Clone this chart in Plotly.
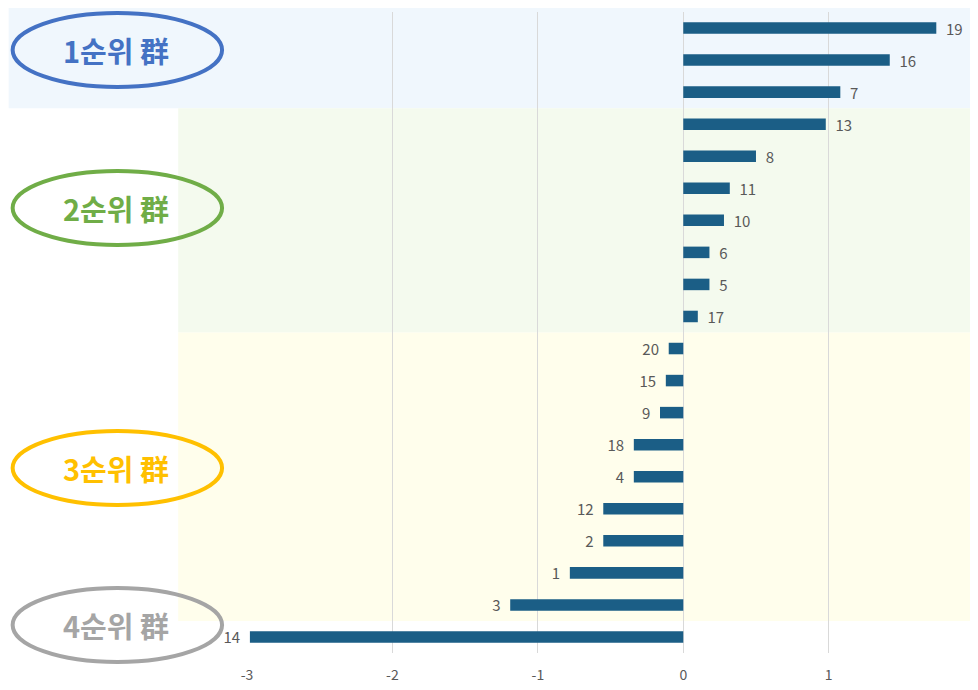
import plotly.graph_objects as go

# Item numbers (top to bottom) and their values
items = ["19", "16", "7", "13", "8", "11", "10", "6", "5", "17",
         "20", "15", "9", "18", "4", "12", "2", "1", "3", "14"]
values = [1.74, 1.42, 1.08, 0.98, 0.50, 0.32, 0.28, 0.18, 0.18, 0.10,
          -0.10, -0.12, -0.16, -0.34, -0.34, -0.55, -0.55, -0.78, -1.19, -2.98]

group_labels = ["1순위 群", "2순위 群", "3순위 群", "4순위 群"]
group_sizes = [3, 7, 9, 1]
group_colors = ["#4472C4", "#70AD47", "#FFC000", "#A5A5A5"]
band_fills = ["#F0F7FD", "#F4FAEE", "#FFFEEC", None]

x_ticks = [-3, -2, -1, 0, 1, 2]

OFF = 8  # page body offset
W, H = 970, 682
ML, MR, MT, MB = 239, 0, 4, 37
PW = W - ML - MR
PH = H - MT - MB

def px_x(p):
    return (p - OFF - ML) / PW

def px_y(p):
    return (H - MB - (p - OFF)) / PH

nbsp = "\u00a0\u00a0"
texts = [(nbsp + it) if v >= 0 else (it + nbsp) for it, v in zip(items, values)]

fig = go.Figure()
fig.add_trace(go.Bar(
    x=values, y=items, orientation="h",
    marker=dict(color="#1B5E86", line=dict(width=0)),
    width=0.36,
    text=texts, textposition="outside", cliponaxis=False, constraintext="none",
    textfont=dict(size=15, color="#595959", family="Noto Sans CJK KR"),
    hoverinfo="skip",
))

shapes = []
annotations = []
n = len(items)
start = 0
ell_centers_y = [50, 208, 468, 625]
for gi, (lab, size, col, fill) in enumerate(zip(group_labels, group_sizes, group_colors, band_fills)):
    top = 1 - start / n
    bot = 1 - (start + size) / n
    if fill:
        x0 = px_x(OFF) if gi == 0 else px_x(178)
        y1 = px_y(OFF) if gi == 0 else top
        shapes.append(dict(type="rect", xref="paper", yref="paper",
                           x0=x0, x1=1, y0=bot, y1=y1,
                           fillcolor=fill, line=dict(width=0), layer="below"))
    start += size
    cy = ell_centers_y[gi]
    shapes.append(dict(type="circle", xref="paper", yref="paper",
                       x0=px_x(12), x1=px_x(222), y0=px_y(cy - 37), y1=px_y(cy + 37),
                       line=dict(color=col, width=4), fillcolor="rgba(0,0,0,0)",
                       layer="above"))
    annotations.append(dict(xref="paper", yref="paper", x=px_x(116), y=px_y(cy),
                            text="<b>" + lab + "</b>", showarrow=False,
                            font=dict(size=29, color=col, family="Noto Sans CJK KR"),
                            xanchor="center", yanchor="middle"))

fig.update_layout(
    width=W, height=H,
    margin=dict(l=ML, r=MR, t=MT, b=MB),
    paper_bgcolor="white", plot_bgcolor="rgba(0,0,0,0)",
    showlegend=False,
    shapes=shapes, annotations=annotations,
    font=dict(family="Noto Sans CJK KR"),
)
fig.update_xaxes(range=[-3, 2.013], tickvals=x_ticks, ticktext=[str(t) for t in x_ticks],
                 showgrid=True, gridcolor="#D9D9D9", gridwidth=1,
                 zeroline=True, zerolinecolor="#D9D9D9", zerolinewidth=1,
                 showline=False, ticks="", ticklabelstandoff=12,
                 ticklabeloverflow="allow",
                 tickfont=dict(size=14, color="#595959"))
fig.update_yaxes(type="category", autorange="reversed", showticklabels=False,
                 showgrid=False, zeroline=False, showline=False, ticks="")

fig.write_html("out.html")
